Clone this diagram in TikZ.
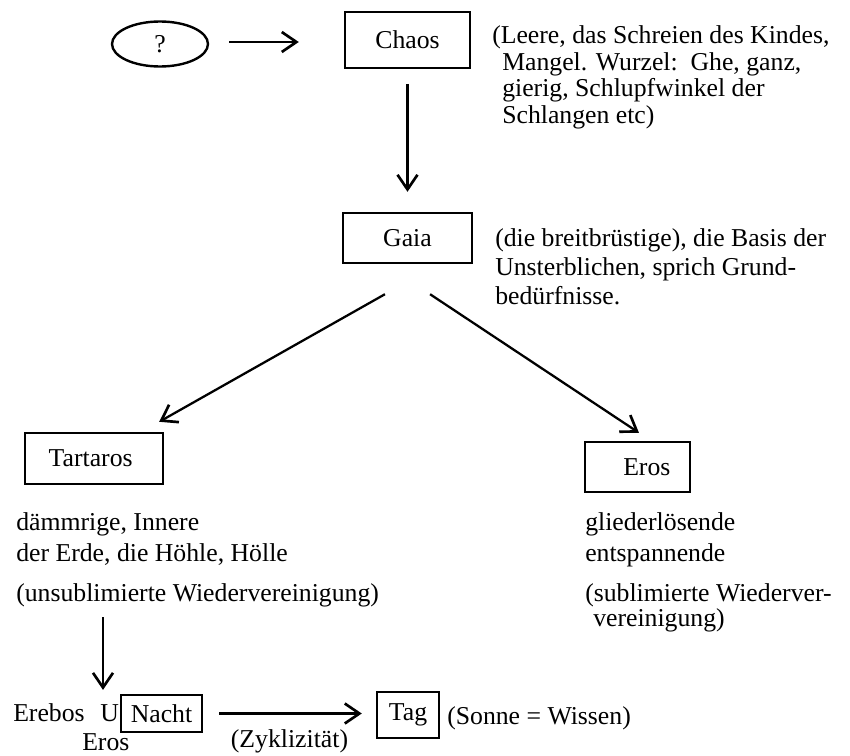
\documentclass[tikz,border=0pt]{standalone}
\usepackage{fontspec}
\setmainfont{Liberation Serif}
\usetikzlibrary{shapes,arrows.meta}

\begin{document}
\begin{tikzpicture}[x=0.75pt,y=-0.75pt,
  font=\fontsize{19.3}{20}\selectfont,
  box/.style={draw,line width=1.8pt,inner sep=0pt},
  arr/.style={line width=1.7pt,-{Straight Barb[length=11pt,width=15pt,line width=2pt]}},
  txt/.style={inner sep=0pt,align=left}]
\useasboundingbox (0,0) rectangle (850,756);
% top
\node[draw,ellipse,line width=1.8pt,minimum width=72pt,minimum height=33.75pt,inner sep=0pt] (quest) at (160,44) {?};
\node[box,minimum width=93.75pt,minimum height=42pt] (chaos) at (407.5,40) {Chaos};
\node[txt,anchor=base west] (chaostext) at (492,123.5) {(Leere, das Schreien des Kindes,\\
  \hspace*{7.5pt}Mangel. Wurzel:\ \ Ghe, ganz,\\
  \hspace*{7.5pt}gierig, Schlupfwinkel der\\
  \hspace*{7.5pt}Schlangen etc)};
\draw[arr] ([xshift=15pt,yshift=1.5pt]quest.east) -- ([xshift=-33.75pt,yshift=1.5pt]chaos.west |- quest.east);
% Gaia
\node[box,minimum width=96.75pt,minimum height=37.5pt] (gaia) at (407.5,238) {Gaia};
\node[txt,anchor=base west] (gaiatext) at (495,304) {(die breitbrüstige), die Basis der\\[1.75pt]
  Unsterblichen, sprich Grund-\\[1.75pt]
  bedürfnisse.};
\draw[arr,shorten <=11pt,shorten >=15pt] (chaos) -- (gaia);
% Tartaros / Eros
\node[box,minimum width=103.5pt,minimum height=38.25pt] (tartaros) at (94,458.5) {Tartaros\hspace*{5pt}};
\node[box,minimum width=78.75pt,minimum height=37.5pt] (eros) at (637.5,467) {\hspace*{14pt}Eros};
\draw[arr] ([xshift=-16.9pt,yshift=-22.5pt]gaia.south) -- ([xshift=-3.75pt,yshift=7.5pt]tartaros.north east);
\draw[arr] ([xshift=16.9pt,yshift=-22.5pt]gaia.south) -- ([xshift=1.1pt,yshift=6pt]eros.north);
\node[txt,anchor=base west] (tartarostext) at (16,601.5) {dämmrige, Innere\\[3.5pt]
  der Erde, die Höhle, Hölle\\[10pt]
  (unsublimierte Wiedervereinigung)};
\node[txt,anchor=base west] (erostext) at (585,626.5) {gliederlösende\\[3.5pt]
  entspannende\\[10pt]
  (sublimierte Wiederver-\\[-1.25pt]
  \hspace*{6pt}vereinigung)};
% bottom
\node[txt,anchor=base west] (erebos) at (13,721) {Erebos};
\node[txt,anchor=base west] (union) at (100,721) {U};
\node[txt,anchor=base west] (eroslow) at (82,750) {Eros};
\node[box,minimum width=60.75pt,minimum height=27.75pt] (nacht) at (161.5,713.5) {Nacht};
\node[box,minimum width=46.5pt,minimum height=34.5pt] (tag) at (408,715) {Tag};
\node[txt,anchor=base west] (sonne) at (447,724) {(Sonne = Wissen)};
\coordinate (down) at (103,617);
\draw[arr,shorten >=10.5pt] (down) -- (down |- union.north);
\draw[arr,shorten <=12pt,shorten >=10.5pt] (nacht.east) -- (nacht.east -| tag.west)
  node[midway,below=11pt,inner sep=0pt] {(Zyklizität)};
\end{tikzpicture}
\end{document}
